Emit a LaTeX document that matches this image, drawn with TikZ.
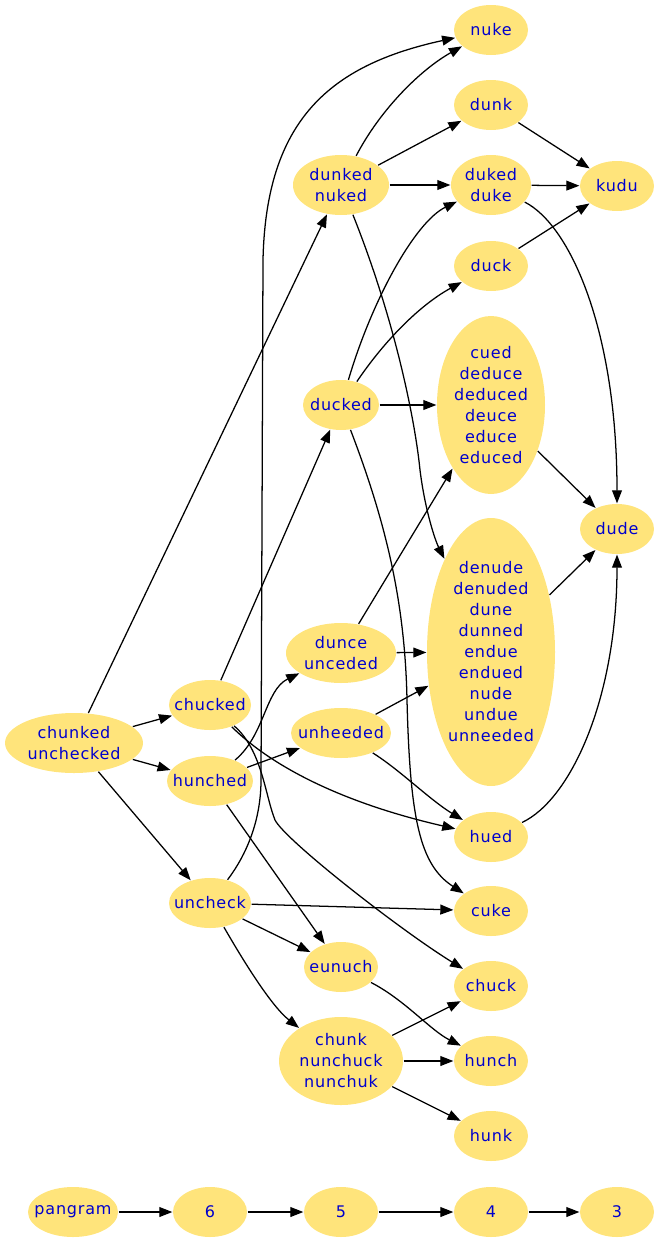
\documentclass[tikz,border=0pt]{standalone}
\usepackage{fontspec}
\setmainfont{DejaVu Sans}[LetterSpace=5]
\usetikzlibrary{shapes.geometric,arrows.meta}
\definecolor{wordfill}{HTML}{FFE47B}
\definecolor{wordtext}{HTML}{0000CD}
\tikzset{
	word/.style={ellipse, fill=wordfill, text=wordtext, inner sep=-25pt, align=center,
		minimum width=55.5pt, minimum height=37.5pt, font=\fontsize{12}{15.75}\selectfont},
}

\begin{document}
\begin{tikzpicture}[x=0.75pt, y=-0.75pt, line width=0.95pt, >={Triangle[length=9.8pt,width=7.4pt]}]
	\useasboundingbox (0,0) rectangle (660,1242);
	% first column
	\node[word, minimum width=103.5pt, minimum height=45pt] (chunked) at (74,743) {chunked\\unchecked};
	\node[word, minimum width=67.5pt] (pangram) at (73,1212) {pangram};
	% second column
	\node[word, minimum width=61.5pt] (chucked) at (210,705) {chucked};
	\node[word, minimum width=64.5pt] (hunched) at (210,781) {hunched};
	\node[word, minimum width=61.5pt] (uncheck) at (210,903) {uncheck};
	\node[word] (s6) at (210,1212) {6};
	% third column
	\node[word, minimum width=72pt, minimum height=45pt] (dunked) at (341,185) {dunked\\nuked};
	\node[word, minimum width=57pt] (ducked) at (341,405) {ducked};
	\node[word, minimum width=82.5pt, minimum height=45pt] (dunce) at (341,653) {dunce\\unceded};
	\node[word, minimum width=75pt] (unheeded) at (341,733) {unheeded};
	\node[word] (eunuch) at (341,967) {eunuch};
	\node[word, minimum width=93pt, minimum height=66pt] (chunk) at (341,1061) {chunk\\nunchuck\\nunchuk};
	\node[word] (s5) at (341,1212) {5};
	% fourth column
	\node[word] (nuke) at (491,30) {nuke};
	\node[word] (dunk) at (491,105) {dunk};
	\node[word, minimum width=60pt, minimum height=45pt] (duked) at (491,185) {duked\\duke};
	\node[word] (duck) at (491,266) {duck};
	\node[word, minimum width=81pt, minimum height=133.5pt] (cued) at (491,405) {cued\\deduce\\deduced\\deuce\\educe\\educed};
	\node[word, minimum width=96pt, minimum height=201pt] (denude) at (491,652) {denude\\denuded\\dune\\dunned\\endue\\endued\\nude\\undue\\unneeded};
	\node[word] (hued) at (491,837) {hued};
	\node[word] (cuke) at (491,911) {cuke};
	\node[word] (chuck) at (491,986) {chuck};
	\node[word] (hunch) at (491,1061) {hunch};
	\node[word] (hunk) at (491,1136) {hunk};
	\node[word] (s4) at (491,1212) {4};
	% fifth column
	\node[word] (kudu) at (617,186) {kudu};
	\node[word] (dude) at (617,529) {dude};
	\node[word] (s3) at (617,1212) {3};

	\draw [->] (chunked) -- (chucked);
	\draw [->] (chunked) -- (hunched);
	\draw [->] (chunked) -- (uncheck);
	\draw [->] (chunked) -- (dunked);
	\draw [->] (chucked) -- (ducked);
	\draw [->] (chucked) .. controls (265,760) and (330,800) .. (hued);
	\draw [->] (chucked) .. controls (262,750) and (265,795) .. (275,820) .. controls (285,840) and (400,930) .. (chuck);
	\draw [->] (hunched) .. controls (265,735) and (265,690) .. (dunce);
	\draw [->] (hunched) -- (unheeded);
	\draw [->] (hunched) -- (eunuch);
	\draw [->] (uncheck) .. controls (250,850) and (261,815) .. (261,780) -- (263,260) .. controls (266,120) and (330,65) .. (nuke);
	\draw [->] (uncheck) -- (cuke);
	\draw [->] (uncheck) -- (eunuch);
	\draw [->] (uncheck) .. controls (240,955) and (270,1005) .. (chunk);
	\draw [->] (dunked) .. controls (380,110) and (420,70) .. (nuke);
	\draw [->] (dunked) -- (dunk);
	\draw [->] (dunked) -- (duked);
	\draw [->] (dunked) .. controls (395,320) and (415,420) .. (420,470) .. controls (425,510) and (435,540) .. (denude);
	\draw [->] (ducked) .. controls (372,300) and (415,222) .. (duked);
	\draw [->] (ducked) .. controls (385,340) and (420,305) .. (duck);
	\draw [->] (ducked) -- (cued);
	\draw [->] (ducked) .. controls (385,520) and (405,600) .. (407,700) .. controls (410,820) and (420,865) .. (cuke);
	\draw [->] (dunce) -- (cued);
	\draw [->] (dunce) -- (denude);
	\draw [->] (unheeded) -- (denude);
	\draw [->] (unheeded) .. controls (400,770) and (430,800) .. (hued);
	\draw [->] (dunk) -- (kudu);
	\draw [->] (duked) -- (kudu);
	\draw [->] (duck) -- (kudu);
	\draw [->] (duked) .. controls (570,225) and (617,330) .. (dude);
	\draw [->] (cued) -- (dude);
	\draw [->] (denude) -- (dude);
	\draw [->] (hued) .. controls (570,800) and (617,700) .. (dude);
	\draw [->] (eunuch) .. controls (405,1000) and (430,1030) .. (hunch);
	\draw [->] (chunk) -- (chuck);
	\draw [->] (chunk) -- (hunch);
	\draw [->] (chunk) -- (hunk);
	\draw [->] (pangram) -- (s6);
	\draw [->] (s6) -- (s5);
	\draw [->] (s5) -- (s4);
	\draw [->] (s4) -- (s3);
\end{tikzpicture}
\end{document}
